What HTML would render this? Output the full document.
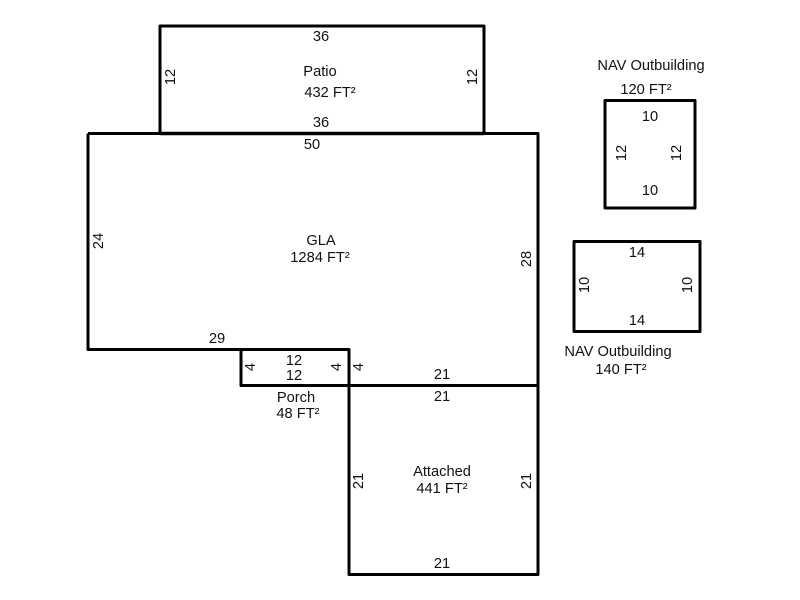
<!DOCTYPE html>
<html><head><meta charset="utf-8"><style>
html,body{margin:0;padding:0;background:#fff}
svg{display:block}
text{font-family:"Liberation Sans",Arial,sans-serif;font-size:14.67px;fill:#111;text-anchor:middle}
path,rect{fill:none;stroke:#000;stroke-width:3;stroke-linejoin:round}
</style></head><body>
<svg width="800" height="600" viewBox="0 0 800 600" xmlns="http://www.w3.org/2000/svg">
<rect x="160" y="26" width="324" height="107.5"/>
<path d="M160 133.5H484" style="stroke-width:3.6"/>
<path d="M88 133.5H538V574.5H349V385.5M538 385.5H349V349.5M349 349.5H88V133.5"/>
<rect x="241" y="349.5" width="108" height="36"/>
<rect x="605" y="100.5" width="90" height="107.5"/>
<rect x="574" y="241.5" width="126" height="90"/>

<text x="321" y="41">36</text>
<text x="320" y="76">Patio</text>
<text x="330" y="97">432 FT²</text>
<text x="321" y="127">36</text>
<text x="312" y="149">50</text>
<text x="321" y="245">GLA</text>
<text x="320" y="262">1284 FT²</text>
<text x="217" y="343">29</text>
<text x="294" y="365">12</text>
<text x="294" y="380">12</text>
<text x="442" y="379">21</text>
<text x="442" y="401">21</text>
<text x="296" y="402">Porch</text>
<text x="298" y="418">48 FT²</text>
<text x="442" y="476">Attached</text>
<text x="442" y="493">441 FT²</text>
<text x="442" y="568">21</text>
<text x="651" y="70">NAV Outbuilding</text>
<text x="646" y="94">120 FT²</text>
<text x="650" y="121">10</text>
<text x="650" y="195">10</text>
<text x="637" y="257">14</text>
<text x="637" y="325">14</text>
<text x="618" y="356">NAV Outbuilding</text>
<text x="621" y="374">140 FT²</text>

<text transform="translate(175 77) rotate(-90)">12</text>
<text transform="translate(477 77) rotate(-90)">12</text>
<text transform="translate(103 241) rotate(-90)">24</text>
<text transform="translate(531 259) rotate(-90)">28</text>
<text transform="translate(255 367) rotate(-90)">4</text>
<text transform="translate(341 367) rotate(-90)">4</text>
<text transform="translate(363 367) rotate(-90)">4</text>
<text transform="translate(363 481) rotate(-90)">21</text>
<text transform="translate(531 481) rotate(-90)">21</text>
<text transform="translate(626 153) rotate(-90)">12</text>
<text transform="translate(681 153) rotate(-90)">12</text>
<text transform="translate(589 285) rotate(-90)">10</text>
<text transform="translate(692 285) rotate(-90)">10</text>
</svg>
</body></html>
